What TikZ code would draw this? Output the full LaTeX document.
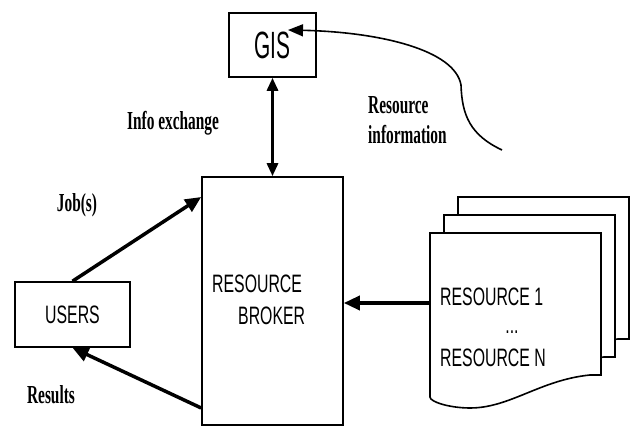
\documentclass[tikz,border=0pt]{standalone}
\usepackage{graphicx,fontspec}
\setmainfont{Liberation Serif}
\setsansfont{Liberation Sans}
\usetikzlibrary{arrows.meta,positioning,calc}
\newcommand{\lbltext}[1]{\scalebox{0.64}[1.08]{\bfseries #1}}
\newcommand{\boxtext}[1]{\scalebox{0.66}[1.05]{\sffamily #1}}
\begin{document}
\begin{tikzpicture}[x=1pt,y=-1pt,>={Triangle[length=16pt,width=14pt]},
  every node/.style={font=\fontsize{24}{30}\selectfont,inner sep=0pt},
  blockbox/.style={draw,line width=1.6pt,fill=white},
  flow/.style={<->,line width=3.5pt},
  page/.style={draw,line width=1.6pt,fill=white}]
\useasboundingbox (0,0) rectangle (633,427);
\node[blockbox,minimum width=87pt,minimum height=64pt] (gis) at (272.5,45) {\scalebox{0.55}[1]{\fontsize{38}{40}\selectfont\sffamily GIS}};
\node[blockbox,minimum width=141pt,minimum height=248pt] (broker) at (272.5,301) {};
\node[anchor=west] (brokerA) at (212,284) {\boxtext{RESOURCE}};
\node[anchor=west] (brokerB) at (238,316) {\boxtext{BROKER}};
\node[blockbox,minimum width=115pt,minimum height=65pt] (users) at (72.5,314.5) {\boxtext{USERS}};
% stack of resource pages
\foreach \dx/\dy in {28/-36,14/-18,0/0}
  \draw[page,shift={(\dx,\dy)}] (430,233) -- (601,233) -- (601,375) -- (590,375)
    .. controls (540,380) and (510,408) .. (470,408)
    .. controls (450,408) and (430,402) .. (430,397) -- cycle;
\node[anchor=west] (res1) at (440,297) {\boxtext{RESOURCE 1}};
\node (dots) at (512,332) {\boxtext{...}};
\node[anchor=west] (resN) at (440,358) {\boxtext{RESOURCE N}};
\coordinate (resin) at (430,303);
\coordinate (curvestart) at (502,150);
% connectors
\draw[flow,>={Triangle[length=13pt,width=11pt]},line width=3pt] (gis) -- (broker);
\draw[flow,->] (users.north) -- (broker.west |- 0,197);
\draw[flow,->] (broker.west |- 0,408) -- (users.south);
\draw[flow,->] (resin) -- (broker.east |- resin);
\draw[->,line width=1.6pt,>={Triangle[length=15pt,width=12pt]}] (curvestart)
  .. controls (470,135) and (462,115) .. (461,85)
  .. controls (455,50) and (380,32) .. (288,30);
% labels
\node (jobs) at (77,205) {\lbltext{Job(s)}};
\node (results) at (51,395) {\lbltext{Results}};
\node (info) at (173,123) {\lbltext{Info exchange}};
\node[anchor=west,align=left] (resinfo) at (368,120) {\lbltext{Resource}\\\lbltext{information}};
\end{tikzpicture}
\end{document}
